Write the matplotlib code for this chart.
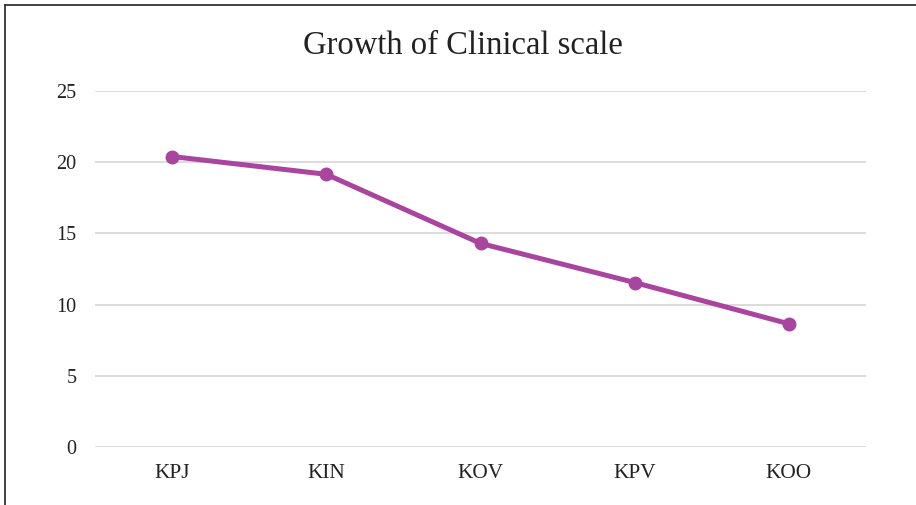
import matplotlib
matplotlib.use("Agg")
import matplotlib.pyplot as plt
from matplotlib.lines import Line2D

categories = ["KPJ", "KIN", "KOV", "KPV", "KOO"]
values = [20.4, 19.15, 14.3, 11.55, 8.65]
y_ticks = [0, 5, 10, 15, 20, 25]

plt.rcParams["font.family"] = ["Liberation Serif", "DejaVu Serif"]

fig = plt.figure(figsize=(9.16, 5.05), dpi=100)
ax = fig.add_axes([95 / 916, 1 - 447 / 505, (866 - 95) / 916, (447 - 91) / 505])

x = list(range(len(categories)))
ax.plot(x, values, color="#A9449F", linewidth=3.6, marker="o", markersize=9,
        solid_capstyle="round", zorder=3)

ax.set_xlim(-0.5, len(categories) - 0.5)
ax.set_ylim(0, 25)
ax.set_yticks(y_ticks)
ax.set_xticks(x)
ax.set_xticklabels(categories)
ax.grid(axis="y", color="#D9D9D9", linewidth=1.3)
ax.set_axisbelow(True)
for s in ax.spines.values():
    s.set_visible(False)
ax.tick_params(axis="y", length=0, labelsize=14.5, colors="#222222", pad=13.5)
ax.tick_params(axis="x", length=0, labelsize=15.3, colors="#222222", pad=12.5)

fig.text(463 / 916, 1 - 46 / 505, "Growth of Clinical scale", ha="center", va="center",
         fontsize=23.5, color="#222222")

# border on left and top edges
fig.add_artist(Line2D([5 / 916, 5 / 916], [0, 1 - 5 / 505], color="#333333", linewidth=1.3))
fig.add_artist(Line2D([5 / 916, 1], [1 - 5 / 505, 1 - 5 / 505], color="#333333", linewidth=1.3))

fig.savefig("out.png", dpi=100)
